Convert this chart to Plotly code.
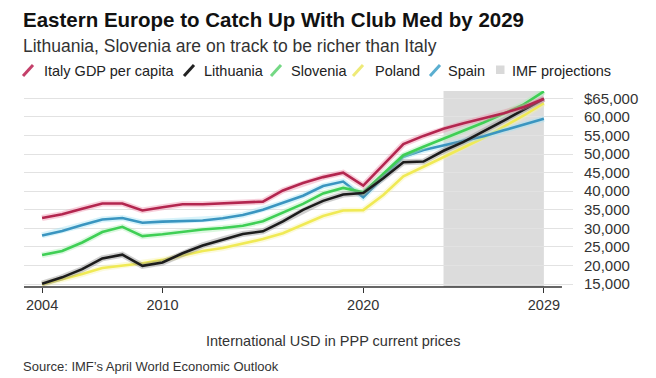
import plotly.graph_objects as go

# ---------------- data ----------------
years = list(range(2004, 2030))

italy = [32800, 33800, 35300, 36700, 36700, 34800, 35700, 36500, 36500, 36700,
         36900, 37200, 40200, 42200, 43800, 45000, 41500, 47100, 52700, 54900,
         56800, 58300, 59700, 61000, 62700, 64900]
lithuania = [15100, 16800, 19000, 21900, 22900, 19900, 20800, 23300, 25400, 27000,
             28500, 29200, 31900, 35000, 37400, 39100, 39500, 43500, 47800, 48000,
             50900, 53300, 56100, 59000, 62000, 64900]
slovenia = [22800, 23900, 26200, 29000, 30400, 27900, 28400, 29100, 29700, 30100,
            30700, 31900, 34300, 36600, 39400, 40900, 39700, 44600, 49700, 52000,
            54100, 56200, 58500, 60900, 63400, 66900]
poland = [14900, 16200, 17700, 19300, 19900, 20600, 21500, 22600, 23900, 24700,
          25800, 27100, 28700, 31000, 33300, 34800, 34900, 39000, 44000, 46600,
          49200, 51800, 54400, 57400, 60400, 63700]
spain = [28100, 29300, 30900, 32400, 32800, 31500, 31800, 32000, 32100, 32700,
         33600, 35000, 36800, 38800, 41400, 42600, 38400, 43900, 49300, 51100,
         52300, 53400, 54800, 56400, 58000, 59500]

series_names = ["Italy GDP per capita", "Lithuania", "Slovenia", "Poland", "Spain"]
proj_label = "IMF projections"
proj_start, proj_end = 2024, 2029

x_tick_vals = [2004, 2010, 2020, 2029]
y_tick_vals = [15000, 20000, 25000, 30000, 35000, 40000, 45000, 50000, 55000, 60000, 65000]
y_tick_text = ["15,000", "20,000", "25,000", "30,000", "35,000", "40,000",
               "45,000", "50,000", "55,000", "60,000", "$65,000"]

title_text = "Eastern Europe to Catch Up With Club Med by 2029"
subtitle_text = "Lithuania, Slovenia are on track to be richer than Italy"
unit_text = "International USD in PPP current prices"
source_text = "Source: IMF\u2019s April World Economic Outlook"

# ---------------- styling ----------------
W, H = 656, 378
ML, MR, MT, MB = 24, 83, 91, 91
PW, PH = W - ML - MR, H - MT - MB
FONT = "Liberation Sans, Arial, sans-serif"

colors = {
    "Italy GDP per capita": ("#b3264f", "#f08aa8"),
    "Lithuania": ("#1c1c1c", "#8a8a8a"),
    "Slovenia": ("#3fcf55", "#a8f0b0"),
    "Poland": ("#f0ea55", "#f8f4a8"),
    "Spain": ("#3a95c0", "#9fe2f5"),
}
icon_colors = {
    "Italy GDP per capita": "#c4406a",
    "Lithuania": "#222222",
    "Slovenia": "#74d884",
    "Poland": "#eeea78",
    "Spain": "#5aaed0",
}
values = {
    "Italy GDP per capita": italy,
    "Lithuania": lithuania,
    "Slovenia": slovenia,
    "Poland": poland,
    "Spain": spain,
}


def px_x(px):
    return (px - ML) / PW


def px_y(py):
    return (H - MB - py) / PH


fig = go.Figure()

draw_order = ["Poland", "Spain", "Slovenia", "Lithuania", "Italy GDP per capita"]
for name in draw_order:
    main, glow = colors[name]
    fig.add_trace(go.Scatter(x=years, y=values[name], mode="lines",
                             line=dict(color=glow, width=6), opacity=0.4,
                             hoverinfo="skip", showlegend=False))
    fig.add_trace(go.Scatter(x=years, y=values[name], mode="lines", name=name,
                             line=dict(color=main, width=2.6), showlegend=False))

shapes = [
    dict(type="rect", xref="x", yref="paper", x0=proj_start, x1=proj_end, y0=0, y1=1,
         fillcolor="#dcdcdc", line=dict(width=0), layer="below"),
    dict(type="line", xref="x", yref="paper", x0=2003.1, x1=2029.9, y0=0, y1=0,
         line=dict(color="#333333", width=1.5)),
]

annotations = [
    dict(text="<b>" + title_text + "</b>", x=px_x(21), y=px_y(19), xref="paper", yref="paper",
         xanchor="left", yanchor="middle", showarrow=False,
         font=dict(family=FONT, size=20.5, color="#111111")),
    dict(text=subtitle_text, x=px_x(21), y=px_y(46), xref="paper", yref="paper",
         xanchor="left", yanchor="middle", showarrow=False,
         font=dict(family=FONT, size=17.5, color="#333333")),
    dict(text=unit_text, x=px_x(333), y=px_y(341), xref="paper", yref="paper",
         xanchor="center", yanchor="middle", showarrow=False,
         font=dict(family=FONT, size=14.5, color="#333333")),
    dict(text=source_text, x=px_x(21), y=px_y(366), xref="paper", yref="paper",
         xanchor="left", yanchor="middle", showarrow=False,
         font=dict(family=FONT, size=13, color="#333333")),
]

# custom legend: slanted strokes + labels
legend_icon_x = [23, 184, 271, 353, 430]
legend_text_x = [41.5, 201.5, 289, 372.5, 446]
for name, ix, tx in zip(series_names, legend_icon_x, legend_text_x):
    shapes.append(dict(type="line", xref="paper", yref="paper",
                       x0=px_x(ix), y0=px_y(76), x1=px_x(ix + 10), y1=px_y(65),
                       line=dict(color=icon_colors[name], width=3)))
    annotations.append(dict(text=name, x=px_x(tx), y=px_y(71), xref="paper", yref="paper",
                            xanchor="left", yanchor="middle", showarrow=False,
                            font=dict(family=FONT, size=14.5, color="#222222")))
shapes.append(dict(type="rect", xref="paper", yref="paper",
                   x0=px_x(496), x1=px_x(504.5), y0=px_y(74), y1=px_y(65.5),
                   fillcolor="#d9d9d9", line=dict(width=0)))
annotations.append(dict(text=proj_label, x=px_x(510), y=px_y(71), xref="paper", yref="paper",
                        xanchor="left", yanchor="middle", showarrow=False,
                        font=dict(family=FONT, size=14.5, color="#222222")))

fig.update_layout(
    width=W, height=H,
    margin=dict(l=ML, r=MR, t=MT, b=MB, pad=0),
    paper_bgcolor="white", plot_bgcolor="white",
    showlegend=False,
    font=dict(family=FONT, color="#333333"),
    shapes=shapes, annotations=annotations,
    xaxis=dict(range=[2003.1, 2030.45], showgrid=False, zeroline=False, showline=False,
               tickmode="array", tickvals=x_tick_vals, ticktext=[str(v) for v in x_tick_vals],
               ticks="outside", ticklen=5, tickwidth=1, tickcolor="#333333",
               tickfont=dict(family=FONT, size=14.5, color="#333333")),
    yaxis=dict(range=[14200, 67000], side="right", showgrid=True, gridcolor="#e2e2e2",
               gridwidth=1, zeroline=False, showline=False, ticks="",
               tickmode="array", tickvals=y_tick_vals, ticktext=y_tick_text,
               ticklabelstandoff=10,
               tickfont=dict(family=FONT, size=15, color="#333333")),
)

fig.write_html("out.html", config={"displayModeBar": False},
               post_script="document.body.style.margin='0';document.body.style.overflow='hidden';")
